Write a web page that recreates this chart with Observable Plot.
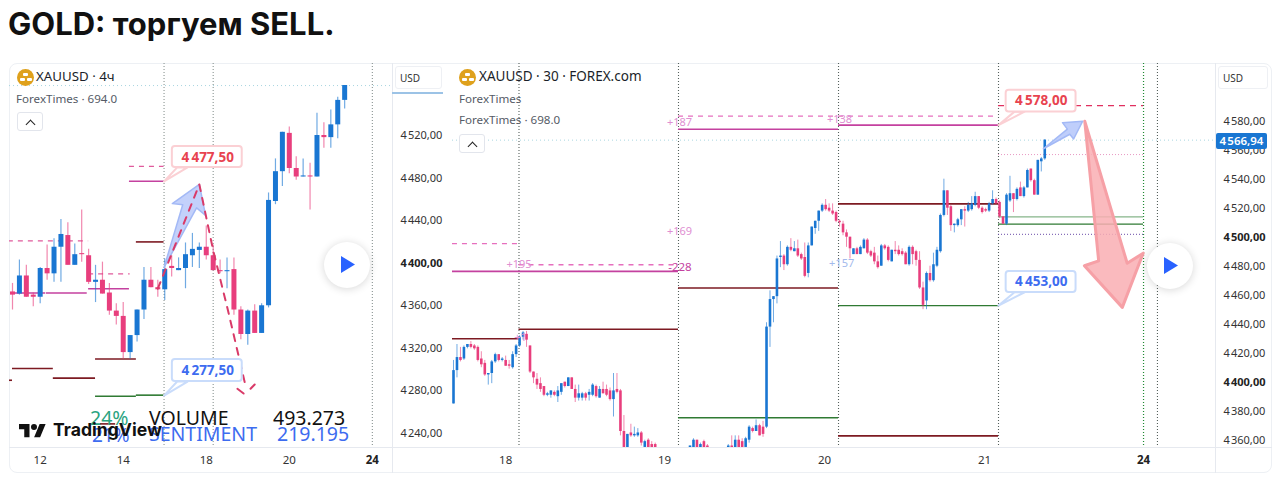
<!DOCTYPE html>
<html><head><meta charset="utf-8">
<script src="https://cdn.jsdelivr.net/npm/d3@7"></script>
<script src="https://cdn.jsdelivr.net/npm/@observablehq/plot@0.6"></script>
<style>
html,body{margin:0;padding:0;background:#fff;width:1280px;height:480px;overflow:hidden}
#page{position:relative;width:1280px;height:480px;font-family:"Noto Sans",sans-serif;color:#131722}
#page>*{position:absolute}
.abs{white-space:nowrap;line-height:1}
.sep{background:#e6e9ef}
.btn{border:1px solid #e2e5ec;border-radius:3px;box-sizing:border-box;background:#fff}
.chev{border-left:1.6px solid #222;border-top:1.6px solid #222;width:6px;height:6px;transform:rotate(45deg);position:absolute;left:9px;top:8px}
.coin{width:17px;height:17px;border-radius:50%;background:#dfa11c}
.coin i{position:absolute;background:#fff;height:3px;width:5px;border-radius:1px}
.play{width:46px;height:46px;border-radius:50%;background:#fff;box-shadow:0 1px 8px rgba(0,0,0,.16)}
.play i{position:absolute;left:17px;top:14px;width:14px;height:17px;background:#2962ff;clip-path:polygon(0 0,100% 50%,0 100%)}
svg{position:absolute;top:60px}
</style></head><body><div id="page"></div>
<script>
// ---------- left chart (XAUUSD 4h) ----------
const leftOpen=[4373,4371,4388,4370,4368,4395,4390,4415,4426,4398,4409,4407,4382,4384,4372,4355,4350,4316,4332,4356,4384,4377,4375,4397,4393,4395,4407,4412,4415,4407,4393,4392,4394,4356,4333,4355,4334,4360,4458,4486,4522,4489,4481,4482,4481,4520,4518,4530,4553];
const leftHigh=[4381,4403,4398,4372,4396,4417,4423,4441,4438,4418,4450,4413,4398,4401,4381,4362,4363,4332,4356,4396,4396,4384,4404,4407,4405,4419,4428,4419,4435,4417,4403,4405,4405,4359,4356,4361,4362,4466,4498,4523,4528,4500,4498,4494,4541,4532,4544,4556,4567];
const leftLow=[4356,4370,4368,4359,4362,4384,4382,4382,4398,4398,4401,4380,4363,4371,4351,4342,4310,4310,4326,4347,4377,4368,4365,4387,4393,4376,4396,4395,4403,4393,4390,4376,4351,4328,4323,4334,4334,4358,4455,4472,4484,4478,4481,4450,4481,4508,4508,4517,4545];
const leftClose=[4370,4388,4368,4368,4395,4390,4415,4427,4398,4408,4408,4382,4384,4371,4355,4350,4316,4332,4356,4384,4377,4375,4394,4395,4395,4408,4413,4415,4407,4393,4392,4393,4356,4333,4355,4334,4360,4459,4486,4523,4489,4481,4482,4481,4520,4518,4530,4553,4567];
const leftXTicks=[4,16,28,40];
const leftXLabels=["12","14","18","20"];
const leftXBoldTick=[52];
const leftYTicks=[4240,4280,4320,4360,4440,4480,4520];
const leftYBold=[4400];
const leftSessions=[21.9,29,52];
// [from bar, to bar, price]
const leftMagenta=[[16.9,21.9,4477],[0,4.8,4372],[4.9,10.8,4372],[11,16.9,4376]];
const leftDashed=[[-0.6,11,4421],[11,17,4390],[16.9,21.9,4491]];
const leftDarkRed=[[17.9,21.9,4420],[12,17.9,4310],[0,5.9,4301],[5.9,12,4292],[-0.6,0,4290],[12.7,14.9,4249]];
const leftGreen=[[12,17.9,4275],[17.9,21.9,4276]];
const leftArrow=[[21.9,4396],[24.6,4455],[23.1,4456],[27,4474],[27.9,4445],[26.6,4452],[21.9,4396]];
const leftPath=[[21,4376],[27,4474],[29,4412],[31.2,4354],[33.1,4301],[33.7,4284]];
const leftPathHeadA=[[32.5,4282],[33.4,4277.5]];
const leftPathHeadB=[[34.4,4282],[35,4286]];
const leftSell="4\u202f477,50", leftBuy="4\u202f277,50";
// ---------- right chart (XAUUSD 30m) ----------
const rightOpen=[4385,4408,4417,4416,4424,4426,4425,4424,4416,4413,
4405,4406,4414,4419,4415,4415,4412,4410,4419,4425,
4431,4433,4425,4407,4402,4399,4397,4391,4391,4393,
4390,4393,4400,4397,4403,4395,4389,4389,4392,4391,
4391,4397,4389,4395,4395,4394,4388,4395,4394,4366,
4354,4365,4363,4363,4365,4355,4360,4357,4357,4352,
4347,4342,4338,4335,4333,4336,4338,4340,4353,4353,
4360,4353,4359,4356,4351,4347,4345,4344,4346,4348,
4356,4350,4360,4359,4355,4360,4368,4366,4370,4369,
4369,4438,4457,4459,4486,4487,4481,4493,4490,4492,
4488,4486,4475,4494,4506,4511,4518,4522,4520,4518,
4517,4511,4509,4503,4500,4488,4492,4488,4492,4498,
4490,4489,4483,4480,4494,4493,4483,4491,4491,4490,
4489,4481,4493,4490,4484,4465,4456,4475,4470,4480,
4490,4515,4532,4521,4508,4508,4512,4519,4518,4519,
4522,4528,4520,4519,4518,4523,4526,4524,4514,4509,
4525,4530,4526,4534,4528,4534,4547,4539,4529,4552,4554];
const rightHigh=[4415,4426,4424,4425,4426,4428,4426,4425,4421,4415,
4406,4415,4420,4419,4417,4418,4415,4421,4426,4432,
4435,4435,4425,4407,4406,4403,4397,4393,4394,4394,
4397,4399,4400,4403,4403,4398,4398,4393,4393,4395,
4399,4398,4397,4400,4398,4396,4406,4406,4395,4377,
4364,4371,4369,4368,4366,4360,4361,4359,4358,4354,
4349,4344,4341,4338,4337,4340,4342,4346,4356,4361,
4360,4358,4360,4357,4353,4350,4348,4348,4350,4357,
4363,4363,4363,4361,4362,4370,4369,4374,4371,4373,
4441,4463,4459,4487,4497,4488,4494,4499,4497,4498,
4489,4496,4496,4507,4511,4518,4523,4526,4523,4523,
4518,4512,4511,4505,4500,4492,4493,4494,4499,4499,
4491,4493,4487,4495,4495,4494,4491,4497,4494,4492,
4490,4494,4494,4491,4490,4469,4476,4480,4489,4493,
4516,4540,4532,4522,4509,4513,4519,4521,4524,4528,
4531,4528,4521,4520,4524,4532,4527,4525,4514,4530,
4542,4530,4534,4538,4535,4547,4547,4540,4553,4555,4567];
const rightLow=[4385,4403,4414,4415,4423,4423,4422,4414,4410,4404,
4398,4399,4413,4414,4414,4411,4409,4409,4417,4424,
4429,4424,4406,4399,4395,4393,4390,4390,4389,4390,
4386,4391,4396,4397,4395,4386,4387,4387,4387,4387,
4390,4389,4389,4392,4390,4387,4376,4392,4363,4352,
4352,4362,4362,4362,4356,4353,4351,4350,4349,4345,
4340,4336,4333,4331,4330,4334,4336,4338,4350,4350,
4351,4350,4350,4349,4345,4343,4342,4342,4344,4346,
4348,4348,4350,4350,4353,4358,4365,4366,4363,4362,
4368,4424,4441,4454,4479,4477,4480,4490,4490,4486,
4484,4472,4472,4494,4502,4504,4517,4518,4517,4515,
4510,4507,4501,4493,4485,4488,4488,4488,4492,4488,
4486,4481,4478,4480,4491,4483,4483,4488,4487,4487,
4481,4480,4481,4480,4464,4450,4450,4469,4469,4479,
4489,4514,4515,4504,4503,4507,4508,4507,4517,4518,
4521,4519,4516,4517,4517,4522,4523,4513,4509,4508,
4524,4517,4525,4528,4527,4534,4538,4529,4529,4545,4553];
const rightClose=[4408,4417,4415,4424,4426,4424,4423,4415,4412,4405,
4406,4414,4419,4415,4416,4411,4411,4419,4425,4431,
4434,4429,4407,4403,4398,4395,4391,4392,4394,4391,
4394,4399,4397,4403,4395,4389,4392,4392,4389,4393,
4398,4390,4395,4392,4391,4388,4394,4393,4366,4354,
4364,4363,4364,4365,4358,4359,4354,4353,4354,4347,
4342,4338,4335,4333,4336,4338,4340,4344,4356,4360,
4353,4357,4352,4351,4347,4345,4344,4346,4348,4356,
4350,4360,4352,4352,4361,4369,4366,4370,4363,4364,
4438,4457,4459,4485,4487,4481,4493,4491,4492,4487,
4485,4473,4494,4507,4511,4518,4522,4519,4518,4516,
4511,4510,4503,4500,4492,4492,4488,4493,4498,4489,
4487,4483,4479,4494,4492,4484,4491,4490,4488,4488,
4481,4493,4488,4484,4465,4453,4475,4470,4481,4491,
4515,4532,4520,4508,4509,4512,4519,4518,4522,4523,
4528,4520,4517,4518,4523,4526,4523,4514,4509,4529,
4530,4526,4533,4528,4534,4546,4539,4529,4553,4554,4567];
const rightXTicks=[15,60.7,106.7,152.7];
const rightXLabels=["18","19","20","21"];
const rightXBoldTick=[198.4];
const rightYTicks=[4360,4380,4420,4440,4460,4480,4520,4540,4560,4580];
const rightYBold=[4400,4500];
const rightSessions=[18.83,64.69,110.7,156.7,202.4];
const rightGreenSession=[198.4];
const rightMagenta=[[-0.3,64.69,4476.4],[64.69,110.7,4574.5],[110.7,156.7,4577.3]];
const rightDashed=[[-0.3,18.83,4495.6],[18.83,64.69,4481],[64.69,156.7,4583.5]];
const rightDarkRed=[[-0.3,18.83,4430],[18.83,64.69,4436.5],[64.69,110.7,4465],[110.7,156.7,4523],[110.7,156.7,4363]];
const rightGreen=[[64.69,110.7,4375.5],[110.7,156.7,4452.8],[156.7,198.4,4509]];
const rightLightGreen=[[156.7,198.4,4514]];
const rightCrimsonDash=[[156.7,198.4,4590.8]];
const rightPinkDots=[[156.7,198.4,4557]];
const rightPurpleDots=[[156.7,198.4,4502]];
const rightBlueArrow=[[169.6,4561],[176.5,4574.5],[175.1,4579],[180.9,4580],[178.3,4567.7],[177.2,4571],[169.6,4561]];
const rightRedArrow=[[181.5,4580],[193.7,4482],[198.3,4489],[192.3,4451.6],[181.4,4480.3],[185.5,4483.7],[181.5,4580]];
const rightPinkNotes=[[18.83,4481,"+195"],[65,4503.7,"+169"],[65,4579.4,"+187"],[111,4581.4,"+138"],[19.3,4430.7,"+1"]];
const rightMagentaNotes=[[65.1,4478.9,"-228"]];
const rightBlueNotes=[[111.6,4481.7,"+157"]];
const lastPrice=4566.94;
const rightSell="4\u202f578,00", rightBuy="4\u202f453,00";

const FONT='"Noto Sans",sans-serif';
const BLUE="#1976d2", PINK="#e83e7d", MAG="#c4419f", DRED="#7d1a22", GRN="#2f7a33";
const fmt=v=>String(v).replace(/^(\d)(\d{3})$/,"$1\u200a$2,00");
const bars=(o,h,l,c)=>o.map((v,i)=>({i,o:v,h:h[i],l:l[i],c:c[i],col:c[i]>=v?BLUE:PINK}));
const segs=(a,opt)=>Plot.ruleY(a,{x1:d=>d[0],x2:d=>d[1],y:d=>d[2],clip:true,...opt});
const poly=(a,opt)=>Plot.line(a,{x:d=>d[0],y:d=>d[1],curve:"linear",...opt});
const callout=(x1,x2,yb,yt,ptr,txt,xt,yc,fill,stroke,col)=>[
  poly(ptr,{fill:"#fff",stroke,strokeWidth:2,strokeLinejoin:"round"}),
  Plot.rect([0],{x1:()=>x1,x2:()=>x2,y1:()=>yb,y2:()=>yt,fill,stroke,strokeWidth:2,rx:3}),
  Plot.text([txt],{x:()=>xt,y:()=>yc,text:d=>d,fill:col,fontWeight:700,fontSize:13.5})
];
const candleMarks=(data,bodyW,wickW)=>[
  Plot.ruleX(data,{x:"i",y1:"l",y2:"h",stroke:"col",strokeWidth:wickW,strokeOpacity:.62,clip:true}),
  Plot.ruleX(data,{x:"i",y1:"o",y2:"c",stroke:"col",strokeWidth:bodyW,clip:true})
];
const base={height:420,marginTop:3,marginBottom:33,style:{fontFamily:FONT,background:"transparent",overflow:"visible",color:"#131722"}};
const yAxis=(ticks,bold)=>Plot.axisY({anchor:"right",ticks,tickFormat:fmt,tickSize:0,tickPadding:8,label:null,fontSize:11,fill:bold?"#222":"#333",fontWeight:bold?700:400});

const leftPlot=Plot.plot({...base,width:452,marginLeft:9,marginRight:60,
  x:{domain:[0,50],range:[12,358]},
  y:{domain:[4400,4520],range:[202.7,75]},
  marks:[
    Plot.ruleY([lastPrice],{stroke:"#a8d6e0",strokeDasharray:"1,3",strokeWidth:1,clip:true}),
    Plot.ruleX(leftSessions,{stroke:"#8a9492",strokeDasharray:"1,2",strokeWidth:1.1}),
    segs(leftDashed,{stroke:"#e05a9c",strokeDasharray:"5,5",strokeWidth:1.3}),
    segs(leftMagenta,{stroke:MAG,strokeWidth:1.6}),
    segs(leftDarkRed,{stroke:DRED,strokeWidth:1.6}),
    segs(leftGreen,{stroke:GRN,strokeWidth:1.6}),
    ...candleMarks(bars(leftOpen,leftHigh,leftLow,leftClose),5,1.2),
    poly(leftArrow,{fill:"#b4c6fa",fillOpacity:.8,stroke:"#a3b9f6",strokeWidth:1.5}),
    poly(leftPath,{stroke:"#d93a68",strokeWidth:2,strokeDasharray:"7,7"}),
    poly(leftPathHeadA,{stroke:"#d93a68",strokeWidth:2}),
    poly(leftPathHeadB,{stroke:"#d93a68",strokeWidth:2}),
    ...callout(23.1,33.2,4490,4509.7,[[21.9,4476.8],[23.8,4490],[25.3,4490],[21.9,4476.8]],leftSell,28.2,4499.4,"#fff","#fbd0d4","#e8434f"),
    ...callout(23.1,33.2,4288.8,4309.5,[[21.9,4275.6],[23.8,4288.8],[25.3,4288.8],[21.9,4275.6]],leftBuy,28.2,4299,"#fff","#c9dcfb","#3d6cf0"),
    yAxis(leftYTicks,false),
    yAxis(leftYBold,true),
    Plot.axisX({ticks:leftXTicks,tickFormat:d=>leftXLabels[leftXTicks.indexOf(d)],tickSize:0,tickPadding:8,label:null,fontSize:11.5,fill:"#333"}),
    Plot.axisX({ticks:leftXBoldTick,tickFormat:()=>"24",tickSize:0,tickPadding:8,label:null,fontSize:11.5,fontWeight:700,fill:"#222"})
  ]});

const rightPlot=Plot.plot({...base,width:828,marginLeft:0,marginRight:65,
  x:{domain:[0,100],range:[1,348.8]},
  y:{domain:[4400,4580],range:[321.7,60.7]},
  marks:[
    Plot.ruleY([lastPrice],{stroke:"#a8d6e0",strokeDasharray:"1,3",strokeWidth:1,clip:true}),
    Plot.ruleX(rightSessions,{stroke:"#55605c",strokeDasharray:"1,2",strokeWidth:1.1}),
    Plot.ruleX(rightGreenSession,{stroke:"#1f8a32",strokeDasharray:"1,2",strokeWidth:1.2}),
    segs(rightDashed,{stroke:"#e66fbe",strokeDasharray:"5,5",strokeWidth:1.3}),
    segs(rightCrimsonDash,{stroke:"#e0305f",strokeDasharray:"6,5",strokeWidth:1.3}),
    segs(rightPinkDots,{stroke:"#e89ac4",strokeDasharray:"1,2",strokeWidth:1}),
    segs(rightPurpleDots,{stroke:"#6a4aa8",strokeDasharray:"1,2",strokeWidth:1}),
    segs(rightMagenta,{stroke:MAG,strokeWidth:1.6}),
    segs(rightDarkRed,{stroke:DRED,strokeWidth:1.6}),
    segs(rightGreen,{stroke:GRN,strokeWidth:1.4}),
    segs(rightLightGreen,{stroke:"#86b58a",strokeWidth:1.4}),
    ...candleMarks(bars(rightOpen,rightHigh,rightLow,rightClose),2.6,1),
    Plot.text(rightPinkNotes,{x:d=>d[0],y:d=>d[1],text:d=>d[2],fill:"#e08fd2",fontSize:11}),
    Plot.text(rightMagentaNotes,{x:d=>d[0],y:d=>d[1],text:d=>d[2],fill:"#c4419f",fontSize:11.5}),
    Plot.text(rightBlueNotes,{x:d=>d[0],y:d=>d[1],text:d=>d[2],fill:"#a3b9ec",fontSize:11}),
    poly(rightRedArrow,{fill:"#f9aeb3",fillOpacity:.85,stroke:"#f6a0a6",strokeWidth:3}),
    poly(rightBlueArrow,{fill:"#b4c6fa",fillOpacity:.85,stroke:"#a3b9f6",strokeWidth:1.5}),
    ...callout(158.9,179,4586.4,4601.4,[[156.7,4577.3],[161.3,4586.6],[164.2,4586.6],[156.7,4577.3]],rightSell,169,4594,"#fff","#fbd0d4","#e8434f"),
    ...callout(158.9,179,4461.9,4476.4,[[156.7,4452.8],[161.3,4462],[164.2,4462],[156.7,4452.8]],rightBuy,169,4469,"#fff","#c9dcfb","#3d6cf0"),
    yAxis(rightYTicks,false),
    yAxis(rightYBold,true),
    Plot.axisX({ticks:rightXTicks,tickFormat:d=>rightXLabels[rightXTicks.indexOf(d)],tickSize:0,tickPadding:8,label:null,fontSize:11.5,fill:"#333"}),
    Plot.axisX({ticks:rightXBoldTick,tickFormat:()=>"24",tickSize:0,tickPadding:8,label:null,fontSize:11.5,fontWeight:700,fill:"#222"})
  ]});

const page=document.getElementById("page");
const el=(cls,css,html)=>{const d=document.createElement("div");d.className=cls;d.style.cssText=css;if(html!=null)d.innerHTML=html;page.appendChild(d);return d;};
el("","left:8px;top:5px;font:700 31px/38px Inter,sans-serif;color:#111;white-space:nowrap","GOLD: торгуем SELL.");
el("","left:9px;top:63px;width:1263px;height:410px;border:1px solid #edf0f4;border-radius:8px;box-sizing:border-box");
el("sep","left:9px;top:447px;width:1263px;height:1px");
el("sep","left:392px;top:63px;width:1px;height:410px");
el("sep","left:1215px;top:63px;width:1px;height:410px");
leftPlot.style.left="0px"; rightPlot.style.left="452px";
page.appendChild(leftPlot); page.appendChild(rightPlot);
const coin=(x,y)=>el("coin",`left:${x}px;top:${y}px`,'<i style="left:6px;top:4px"></i><i style="left:2.5px;top:8.5px"></i><i style="left:9.5px;top:8.5px"></i>');
coin(17,69); coin(459,69);
el("abs","left:36px;top:70px;font-size:13.3px;color:#1b1f2a","XAUUSD · 4ч");
el("abs","left:16px;top:93px;font-size:11.6px;color:#555b66","ForexTimes · 694.0");
el("btn","left:17px;top:112px;width:26px;height:19px",'<span class="chev"></span>');
el("abs","left:479px;top:70px;font-size:13.5px;color:#1b1f2a","XAUUSD · 30 · FOREX.com");
el("abs","left:459px;top:93px;font-size:11.6px;color:#555b66","ForexTimes");
el("abs","left:459px;top:114px;font-size:11.6px;color:#555b66","ForexTimes · 698.0");
el("btn","left:459px;top:134px;width:26px;height:19px",'<span class="chev"></span>');
el("btn abs","left:395px;top:66px;width:47px;height:23px;font-size:10px;color:#333;padding:6px 0 0 4px;border-color:#eef0f4","USD");
el("","left:392px;top:92px;width:51px;height:2px;background:#9cc3e6");
el("btn abs","left:1218px;top:66px;width:50px;height:23px;font-size:10px;color:#333;padding:6px 0 0 4px;border-color:#eef0f4","USD");
el("abs","left:1216px;top:133px;width:51px;height:16px;background:#1976d2;color:#fff;font-size:11.5px;font-weight:600;text-align:center;line-height:16px;border-radius:2px","4\u200a566,94");
el("play","left:324px;top:242px","<i></i>");
el("play","left:1147px;top:243px","<i></i>");
// watermark & statistics
el("abs","left:90px;top:408px;font-size:19.5px;color:#2aa37f","24%");
el("abs","left:92px;top:426px;font-size:19px;color:#3d6cf0","21%");
el("abs","left:149px;top:408px;font-size:19.5px;color:#111","VOLUME");
el("abs","left:149px;top:424px;font-size:19.5px;color:#3d6cf0","SENTIMENT");
el("abs","left:273px;top:408px;font-size:19.5px;color:#111","493.273");
el("abs","left:277px;top:424px;font-size:19.5px;color:#3d6cf0","219.195");
el("","left:19px;top:421px;width:36px;height:28px;background:#111;transform-origin:0 0;transform:scale(.75);clip-path:path('M14 22H7V11H0V4h14v18zM28 22h-8l7.5-18h8L28 22zM20 4a4 4 0 1 1 0 8a4 4 0 1 1 0-8z')");
el("abs","left:53px;top:420px;font:700 17.6px/20px Inter,sans-serif;color:#111","TradingView");
</script></body></html>
